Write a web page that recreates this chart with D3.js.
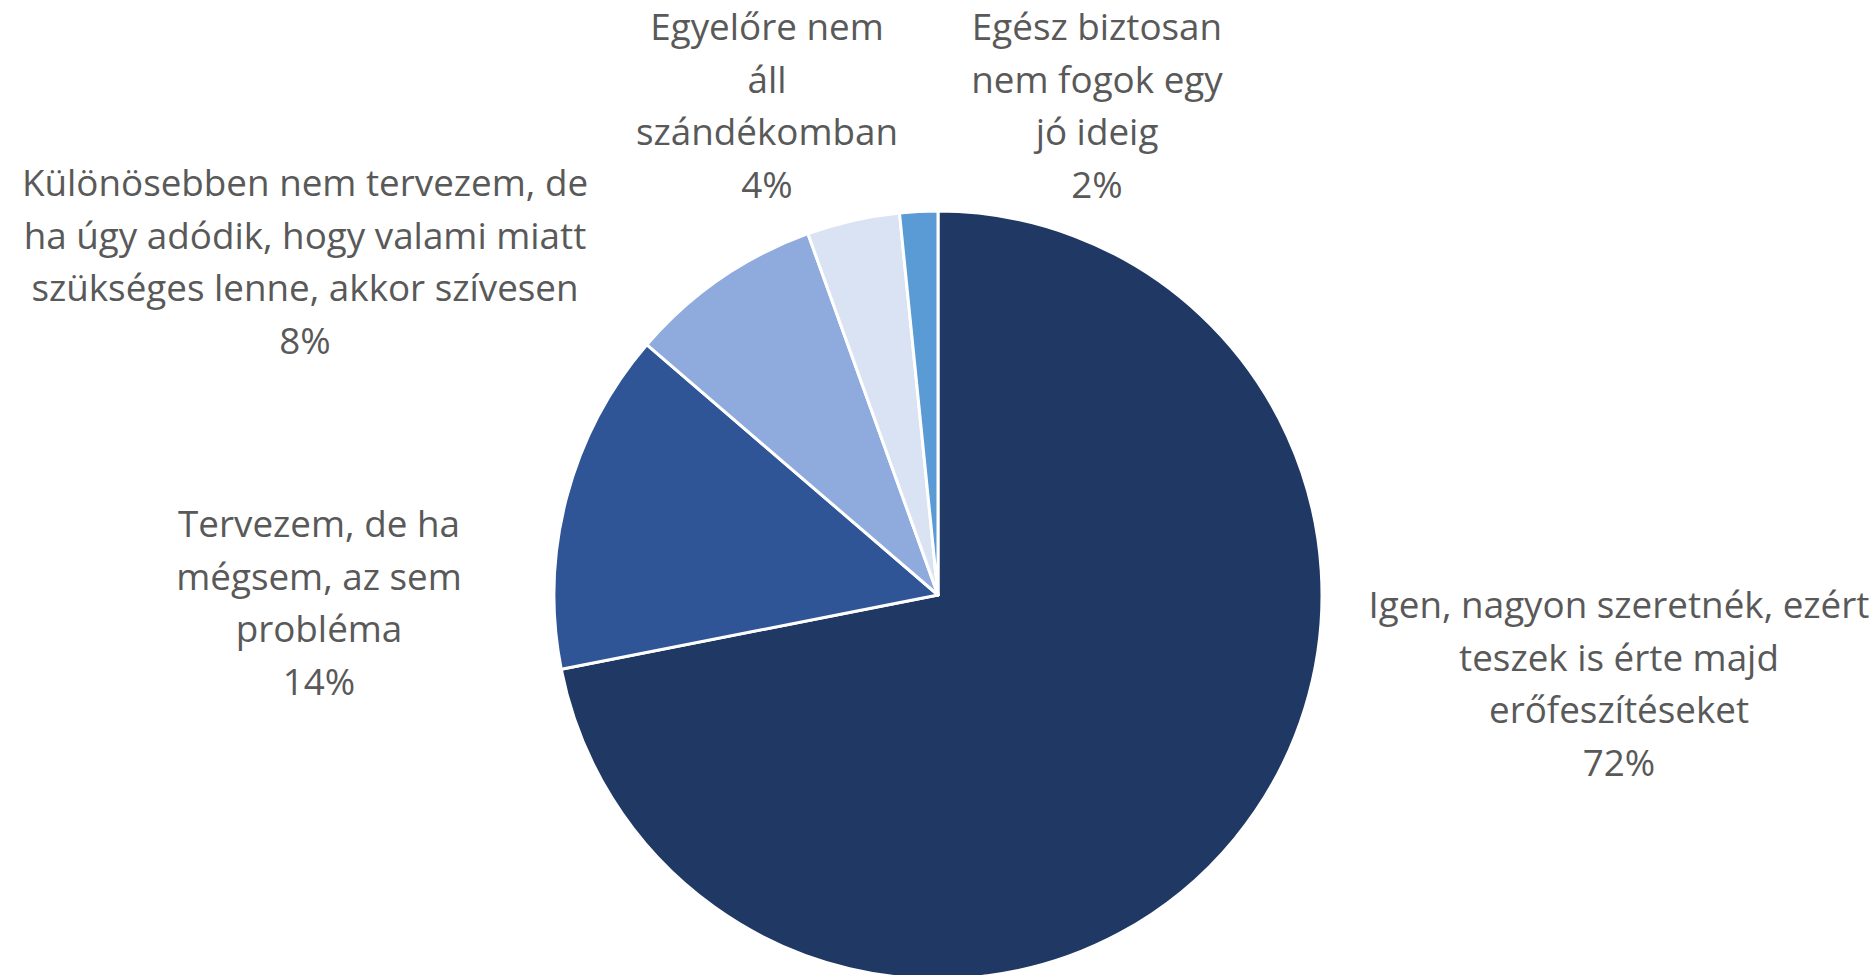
<!DOCTYPE html>
<html>
<head>
<meta charset="utf-8">
<script src="https://cdn.jsdelivr.net/npm/d3@7"></script>
<style>
  html, body { margin: 0; padding: 0; background: #ffffff; }
  svg { display: block; }
</style>
</head>
<body>
<svg id="chart" width="1875" height="975"></svg>
<script>
// ---- data ----
const categories = [
  "Igen, nagyon szeretnék, ezért\nteszek is érte majd\nerőfeszítéseket",
  "Tervezem, de ha\nmégsem, az sem\nprobléma",
  "Különösebben nem tervezem, de\nha úgy adódik, hogy valami miatt\nszükséges lenne, akkor szívesen",
  "Egyelőre nem\náll\nszándékomban",
  "Egész biztosan\nnem fogok egy\njó ideig"
];
const values = [71.9, 14.4, 8.2, 3.9, 1.6];
const percentLabels = ["72%", "14%", "8%", "4%", "2%"];
const colors = ["#203864", "#2F5597", "#8FAADC", "#DAE3F3", "#5B9BD5"];

// ---- layout (label anchor positions, chart pixels) ----
const labelPos = [
  [1619, 604],
  [319, 523],
  [305, 182],
  [767, 26],
  [1097, 26]
];

const W = 1875, H = 975;
const cx = 938, cy = 595, R = 384;
const lineH = 52.5;

const svg = d3.select("#chart");
const g = svg.append("g").attr("transform", `translate(${cx},${cy})`);

const pie = d3.pie().sort(null).value(d => d);
const arc = d3.arc().innerRadius(0).outerRadius(R);

g.selectAll("path")
  .data(pie(values))
  .join("path")
  .attr("d", arc)
  .attr("fill", (d, i) => colors[i])
  .attr("stroke", "#ffffff")
  .attr("stroke-width", 3)
  .attr("stroke-linejoin", "round");

const labels = svg.append("g")
  .attr("font-family", "'Open Sans', 'Noto Sans', sans-serif")
  .attr("font-size", 36.8)
  .attr("fill", "#595959")
  .attr("text-anchor", "middle");

categories.forEach((c, i) => {
  const lines = c.split("\n").concat([percentLabels[i]]);
  const t = labels.append("text")
    .attr("x", labelPos[i][0])
    .attr("y", labelPos[i][1])
    .attr("dominant-baseline", "central");
  lines.forEach((ln, j) => {
    t.append("tspan")
      .attr("x", labelPos[i][0])
      .attr("y", labelPos[i][1] + j * lineH)
      .text(ln);
  });
});
</script>
</body>
</html>
